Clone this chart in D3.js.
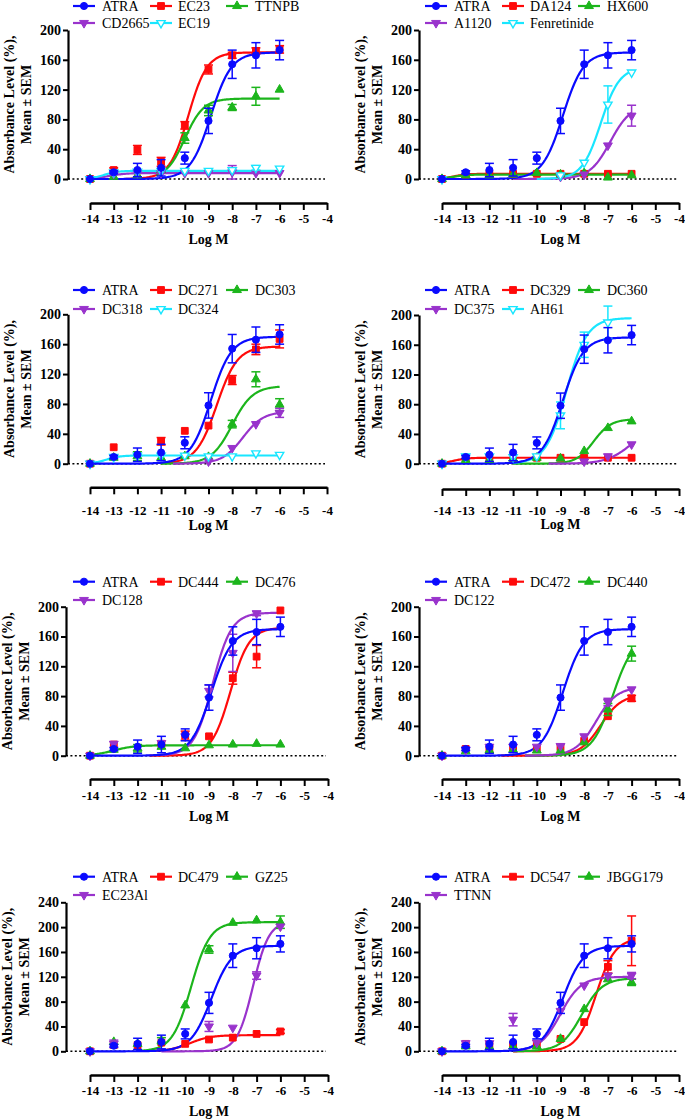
<!DOCTYPE html>
<html><head><meta charset="utf-8">
<script src="https://cdn.jsdelivr.net/npm/d3@7"></script>
<style>
body{margin:0;background:#fff;}
svg{display:block;}
svg text{font-family:'Liberation Serif','DejaVu Serif',serif !important;fill:#000;}
</style></head><body>
<svg id="c" width="685" height="1120"></svg>
<script>
// ---------- DATA ----------
const X_LOG = [-14, -13, -12, -11, -10, -9, -8, -7, -6];
const X_TICKS = [-14, -13, -12, -11, -10, -9, -8, -7, -6, -5, -4];
const Y_TICKS_200 = [0, 40, 80, 120, 160, 200];
const Y_TICKS_240 = [0, 40, 80, 120, 160, 200, 240];

// fit arrays: [bottom, top, logEC50, hill, curve start logM]
const atraVals = [0, 9, 12, 15, 28, 78, 154, 166, 173];
const atraErr  = [0, 2, 9, 11, 8, 17, 19, 17, 13];
const atraFit  = [0, 170, -8.9, 1.0, -14];

// Panel 1
const p1Names = ["ATRA", "EC23", "TTNPB", "CD2665", "EC19"];
const ec23Vals = [0, 12, 39, 23, 72, 147, 166, 172, 174];
const ec23Err  = [0, 3, 6, 6, 5, 6, 4, 4, 5];
const ec23Fit  = [0, 170, -9.85, 1.1, -12.5];
const ttnpbVals = [0, 3, 5, 12, 55, 92, 96, 111, 120];
const ttnpbErr  = [0, 0, 0, 0, 7, 7, 4, 12, 0];
const ttnpbFit  = [0, 108, -10.0, 1.1, -11.2];
const cd2665Vals = [0, 7, 8, 8, 8, 8, 9, 8, 8];
const cd2665Err  = [0, 0, 0, 0, 0, 0, 9, 0, 0];
const cd2665Fit  = [0, 8, -13.2, 1.2, -14];
const ec19Vals = [0, 9, 10, 11, 11, 11, 12, 15, 14];
const ec19Err  = [0, 0, 0, 0, 0, 0, 0, 3, 0];
const ec19Fit  = [0, 11, -13.4, 1.5, -14];

// Panel 2
const p2Names = ["ATRA", "DA124", "HX600", "A1120", "Fenretinide"];
const da124Vals = [0, 6, 7, 7, 7, 7, 7, 7, 7];
const da124Err  = [0, 0, 0, 0, 0, 0, 0, 0, 0];
const da124Fit  = [0, 7, -13.5, 1.5, -14];
const hx600Vals = [0, 5, 5, 6, 8, 6, 8, 2, 5];
const hx600Err  = [0, 0, 0, 0, 0, 0, 0, 0, 0];
const hx600Fit  = [0, 6, -13.5, 1.5, -14];
const a1120Vals = [0, null, null, null, null, 3, 6, 45, 85];
const a1120Err  = [0, 0, 0, 0, 0, 0, 0, 0, 14];
const a1120Fit  = [0, 100, -6.9, 1.0, -11];
const fenVals = [0, null, null, null, null, 5, 22, 100, 143];
const fenErr  = [0, 0, 0, 0, 0, 0, 0, 25, 0];
const fenFit  = [0, 150, -7.3, 1.1, -10];

// Panel 3
const p3Names = ["ATRA", "DC271", "DC303", "DC318", "DC324"];
const dc271Vals = [0, 22, null, 30, 44, 51, 112, 153, 167];
const dc271Err  = [0, 0, 0, 5, 0, 0, 6, 7, 12];
const dc271Fit  = [0, 157, -8.65, 1.0, -11];
const dc303Vals = [0, 8, 10, 8, 10, 9, 53, 113, 79];
const dc303Err  = [0, 0, 6, 0, 0, 0, 5, 10, 8];
const dc303Fit  = [0, 104, -8.0, 1.0, -11];
const dc318Vals = [0, null, null, null, null, 3, 21, 53, 68];
const dc318Err  = [0, 0, 0, 0, 0, 0, 0, 0, 6];
const dc318Fit  = [0, 70, -7.55, 1.0, -10.5];
const dc324Vals = [0, 9, 11, 11, 11, 10, 10, 14, 12];
const dc324Err  = [0, 0, 0, 0, 0, 0, 0, 0, 0];
const dc324Fit  = [0, 11, -13.3, 1.5, -14];

// Panel 4
const p4Names = ["ATRA", "DC329", "DC360", "DC375", "AH61"];
const dc329Vals = [0, 8, 8, 8, 8, 8, 8, 8, 8];
const dc329Err  = [0, 0, 0, 0, 0, 0, 0, 0, 0];
const dc329Fit  = [0, 8, -13.5, 1.5, -14];
const dc360Vals = [0, 5, 5, 7, 8, 7, 17, 48, 57];
const dc360Err  = [0, 0, 0, 0, 0, 0, 0, 0, 0];
const dc360Fit  = [0, 60, -7.6, 1.2, -11];
const dc375Vals = [0, null, null, null, null, null, 3, 10, 26];
const dc375Err  = [0, 0, 0, 0, 0, 0, 0, 0, 0];
const dc375Fit  = [0, 50, -6.05, 0.85, -9.5];
const ah61Vals = [0, 10, 10, 9, 10, 65, 160, 190, null];
const ah61Err  = [0, 0, 0, 0, 0, 18, 17, 22, 0];
const ah61Fit  = [0, 196, -8.75, 1.0, -11];

// Panel 5
const p5Names = ["ATRA", "DC444", "DC476", "DC128"];
const dc444Vals = [0, 15, null, 16, 27, 26, 104, 133, 195];
const dc444Err  = [0, 0, 0, 0, 6, 0, 8, 15, 0];
const dc444Fit  = [0, 172, -8.1, 1.1, -11.5];
const dc476Vals = [0, 8, 10, 12, 10, 14, 15, 16, 15];
const dc476Err  = [0, 0, 5, 0, 0, 0, 0, 0, 0];
const dc476Fit  = [0, 14, -13.0, 1.0, -14];
const dc128Vals = [0, 16, null, 17, 26, 87, 138, 191, null];
const dc128Err  = [0, 0, 0, 0, 0, 8, 25, 3, 0];
const dc128Fit  = [0, 192, -8.85, 1.1, -11];

// Panel 6
const p6Names = ["ATRA", "DC472", "DC440", "DC122"];
const dc472Vals = [0, 9, 9, 10, 9, 11, 20, 53, 77];
const dc472Err  = [0, 0, 0, 0, 0, 0, 0, 0, 4];
const dc472Fit  = [0, 82, -7.3, 1.0, -11.5];
const dc440Vals = [0, 6, 7, 8, 7, 7, 18, 62, 137];
const dc440Err  = [0, 0, 0, 0, 0, 0, 0, 8, 10];
const dc440Fit  = [0, 160, -6.8, 1.0, -10.5];
const dc122Vals = [0, 8, 12, 12, 12, 13, 26, 72, 89];
const dc122Err  = [0, 0, 0, 0, 0, 0, 0, 5, 0];
const dc122Fit  = [0, 92, -7.5, 1.0, -10.5];

// Panel 7
const p7Names = ["ATRA", "DC479", "GZ25", "EC23Al"];
const dc479Vals = [0, 10, 10, 14, 12, 19, 22, 28, 32];
const dc479Err  = [0, 0, 0, 0, 0, 0, 0, 0, 3];
const dc479Fit  = [0, 26, -9.8, 1.0, -11.5];
const gz25Vals = [0, 15, 12, 17, 74, 164, 207, 211, 208];
const gz25Err  = [0, 0, 0, 5, 0, 6, 0, 0, 10];
const gz25Fit  = [0, 208, -9.75, 1.1, -12];
const ec23alVals = [0, 12, null, null, null, 40, 38, 122, 201];
const ec23alErr  = [0, 6, 0, 0, 0, 8, 0, 6, 0];
const ec23alFit  = [0, 210, -7.15, 1.3, -11];

// Panel 8
const p8Names = ["ATRA", "DC547", "JBGG179", "TTNN"];
const dc547Vals = [0, 12, 10, 10, 10, 20, 47, 136, 178];
const dc547Err  = [0, 0, 0, 0, 0, 0, 0, 10, 40];
const dc547Fit  = [0, 182, -7.5, 1.1, -11];
const jbggVals = [0, 8, 7, 8, 8, 20, 68, 116, 111];
const jbggErr  = [0, 0, 0, 0, 0, 0, 0, 0, 5];
const jbggFit  = [0, 118, -8.1, 1.0, -11];
const ttnnVals = [0, 13, 13, 51, 14, 65, 106, 122, 122];
const ttnnErr  = [0, 0, 0, 10, 0, 0, 0, 0, 5];
const ttnnFit  = [0, 120, -9.0, 1.0, -11];

// ---------- STYLE / LAYOUT ----------
const COLORS = ["#0a0aff", "#ff0a0a", "#1cb51c", "#9933cc", "#19e6ff"];
const SYMBOLS = ["circle", "square", "tri", "triDown", "triOpen"];

const panelData = [
  {names: p1Names, yTicks: Y_TICKS_200, vals: [atraVals, ec23Vals, ttnpbVals, cd2665Vals, ec19Vals], errs: [atraErr, ec23Err, ttnpbErr, cd2665Err, ec19Err], fits: [atraFit, ec23Fit, ttnpbFit, cd2665Fit, ec19Fit]},
  {names: p2Names, yTicks: Y_TICKS_200, vals: [atraVals, da124Vals, hx600Vals, a1120Vals, fenVals], errs: [atraErr, da124Err, hx600Err, a1120Err, fenErr], fits: [atraFit, da124Fit, hx600Fit, a1120Fit, fenFit]},
  {names: p3Names, yTicks: Y_TICKS_200, vals: [atraVals, dc271Vals, dc303Vals, dc318Vals, dc324Vals], errs: [atraErr, dc271Err, dc303Err, dc318Err, dc324Err], fits: [atraFit, dc271Fit, dc303Fit, dc318Fit, dc324Fit]},
  {names: p4Names, yTicks: Y_TICKS_200, vals: [atraVals, dc329Vals, dc360Vals, dc375Vals, ah61Vals], errs: [atraErr, dc329Err, dc360Err, dc375Err, ah61Err], fits: [atraFit, dc329Fit, dc360Fit, dc375Fit, ah61Fit]},
  {names: p5Names, yTicks: Y_TICKS_200, vals: [atraVals, dc444Vals, dc476Vals, dc128Vals], errs: [atraErr, dc444Err, dc476Err, dc128Err], fits: [atraFit, dc444Fit, dc476Fit, dc128Fit]},
  {names: p6Names, yTicks: Y_TICKS_200, vals: [atraVals, dc472Vals, dc440Vals, dc122Vals], errs: [atraErr, dc472Err, dc440Err, dc122Err], fits: [atraFit, dc472Fit, dc440Fit, dc122Fit]},
  {names: p7Names, yTicks: Y_TICKS_240, vals: [atraVals, dc479Vals, gz25Vals, ec23alVals], errs: [atraErr, dc479Err, gz25Err, ec23alErr], fits: [atraFit, dc479Fit, gz25Fit, ec23alFit]},
  {names: p8Names, yTicks: Y_TICKS_240, vals: [atraVals, dc547Vals, jbggVals, ttnnVals], errs: [atraErr, dc547Err, jbggErr, ttnnErr], fits: [atraFit, dc547Fit, jbggFit, ttnnFit]}
];

const layouts = [
  {x0:90,  x1:327, ax:68,  yTop:30,    yZero:179,    xAxisY:203,   tickLab:218,   title:239,   leg:[6,23]},
  {x0:442, x1:679, ax:419, yTop:30,    yZero:179,    xAxisY:203,   tickLab:218,   title:239,   leg:[6,23]},
  {x0:90,  x1:327, ax:68,  yTop:314.3, yZero:463.7,  xAxisY:487.3, tickLab:510.5, title:525,   leg:[290,309]},
  {x0:442, x1:679, ax:419, yTop:315,   yZero:463.7,  xAxisY:489,   tickLab:510.5, title:524.5, leg:[290,309]},
  {x0:90,  x1:328, ax:66,  yTop:606.7, yZero:755.7,  xAxisY:779,   tickLab:795,   title:816.5, leg:[581.7,600]},
  {x0:442, x1:679, ax:419, yTop:606.7, yZero:755.7,  xAxisY:779,   tickLab:795,   title:816.5, leg:[581.7,600]},
  {x0:90,  x1:328, ax:66,  yTop:902.3, yZero:1051.3, xAxisY:1075,  tickLab:1090,  title:1111.5,leg:[876.7,895]},
  {x0:442, x1:679, ax:419, yTop:902.3, yZero:1051.3, xAxisY:1075,  tickLab:1090,  title:1111.5,leg:[876.7,895]}
];

const FONT = "'Liberation Serif','DejaVu Serif',serif";
const svg = d3.select("#c");

function drawSymbol(g, kind, cx, cy, color) {
  let gen, rot = 0, fill = color, stroke = color, sw = 1;
  if (kind === "circle") gen = d3.symbol().type(d3.symbolCircle).size(40);
  else if (kind === "square") gen = d3.symbol().type(d3.symbolSquare).size(46);
  else if (kind === "tri") gen = d3.symbol().type(d3.symbolTriangle).size(34);
  else if (kind === "triDown") { gen = d3.symbol().type(d3.symbolTriangle).size(34); rot = 180; }
  else { gen = d3.symbol().type(d3.symbolTriangle).size(30); rot = 180; fill = "#fff"; sw = 1.4; }
  g.append("path").attr("d", gen())
    .attr("transform", `translate(${cx},${cy}) rotate(${rot})`)
    .attr("fill", fill).attr("stroke", stroke).attr("stroke-width", sw);
}

function fitCurve(f) {
  const [bot, top, ec50, hill, start] = f;
  return d3.range(start, -6 + 1e-9, 0.04).concat([-6]).map(lx => [lx, bot + (top - bot) / (1 + Math.pow(10, (ec50 - lx) * hill))]);
}

panelData.forEach((p, i) => {
  const L = layouts[i];
  const g = svg.append("g").style("font-family", FONT);
  const x = d3.scaleLinear().domain([-14, -4]).range([L.x0, L.x1]);
  const y = d3.scaleLinear().domain([0, d3.max(p.yTicks)]).range([L.yZero, L.yTop]);

  // Y axis
  const ya = g.append("g").attr("transform", `translate(${L.ax},0)`)
    .call(d3.axisLeft(y).tickValues(p.yTicks).tickSize(5).tickSizeOuter(0).tickPadding(2).tickFormat(d3.format("d")));
  ya.attr("font-family", null);
  ya.select(".domain").attr("stroke", "#000").attr("stroke-width", 2.2);
  ya.selectAll(".tick line").attr("stroke", "#000").attr("stroke-width", 2);
  ya.selectAll(".tick text").style("font-family", FONT).attr("font-size", 14).attr("font-weight", "bold");

  // zero dotted line
  g.append("line").attr("x1", L.ax).attr("x2", L.x1 - 2).attr("y1", y(0)).attr("y2", y(0))
    .attr("stroke", "#000").attr("stroke-width", 1.6).attr("stroke-dasharray", "2,2.4");

  // X axis
  const xa = g.append("g").attr("transform", `translate(0,${L.xAxisY})`)
    .call(d3.axisBottom(x).tickValues(X_TICKS).tickSize(7).tickSizeOuter(0).tickFormat(d => String(d)));
  xa.attr("font-family", null);
  xa.select(".domain").attr("stroke", "#000").attr("stroke-width", 2.4);
  xa.selectAll(".tick line").attr("stroke", "#000").attr("stroke-width", 2);
  xa.selectAll(".tick text").style("font-family", FONT).attr("font-size", 13).attr("font-weight", "bold")
    .attr("y", L.tickLab - L.xAxisY).attr("dy", "0.35em");

  // axis titles
  g.append("text").attr("x", (L.x0 + L.x1) / 2).attr("y", L.title).attr("dy", "0.35em")
    .style("font-family", FONT).attr("text-anchor", "middle").attr("font-size", 14).attr("font-weight", "bold").text("Log M");
  const cy = (L.yTop + L.yZero) / 2;
  g.append("text").attr("transform", `translate(${L.ax - 59},${cy}) rotate(-90)`).attr("dy", "0.35em")
    .style("font-family", FONT).attr("text-anchor", "middle").attr("font-size", 14).attr("font-weight", "bold").text("Absorbance Level (%),");
  g.append("text").attr("transform", `translate(${L.ax - 42},${cy}) rotate(-90)`).attr("dy", "0.35em")
    .style("font-family", FONT).attr("text-anchor", "middle").attr("font-size", 14).attr("font-weight", "bold").text("Mean \u00b1 SEM");

  // series order: others first, ATRA last (on top)
  const order = d3.range(1, p.names.length).concat([0]);
  const line = d3.line().x(d => x(d[0])).y(d => y(d[1]));

  order.forEach(s => {
    g.append("path").datum(fitCurve(p.fits[s])).attr("d", line)
      .attr("fill", "none").attr("stroke", COLORS[s]).attr("stroke-width", 2.2);
  });
  order.forEach(s => {
    const vals = p.vals[s], errs = p.errs[s];
    X_LOG.forEach((lx, k) => {
      if (vals[k] == null) return;
      const e = errs[k];
      if (e > 0) {
        const xx = x(lx), yHi = y(vals[k] + e), yLo = y(vals[k] - e);
        g.append("line").attr("x1", xx).attr("x2", xx).attr("y1", yHi).attr("y2", yLo).attr("stroke", COLORS[s]).attr("stroke-width", 1.5);
        [yHi, yLo].forEach(yy => g.append("line").attr("x1", xx - 4.5).attr("x2", xx + 4.5).attr("y1", yy).attr("y2", yy).attr("stroke", COLORS[s]).attr("stroke-width", 1.5));
      }
    });
    X_LOG.forEach((lx, k) => {
      if (vals[k] == null) return;
      drawSymbol(g, SYMBOLS[s], x(lx), y(vals[k]), COLORS[s]);
    });
  });

  // legend
  const lineStart = [-17, 60, 136], textStart = [12, 88, 165];
  p.names.forEach((name, s) => {
    const row = s < 3 ? 0 : 1, col = s < 3 ? s : s - 3;
    const ly = L.leg[row];
    const lx1 = L.x0 + lineStart[col], lx2 = lx1 + 22;
    g.append("line").attr("x1", lx1).attr("x2", lx2).attr("y1", ly).attr("y2", ly).attr("stroke", COLORS[s]).attr("stroke-width", 2.2);
    drawSymbol(g, SYMBOLS[s], (lx1 + lx2) / 2, ly, COLORS[s]);
    g.append("text").attr("x", L.x0 + textStart[col]).attr("y", ly).attr("dy", "0.35em")
      .style("font-family", FONT).attr("font-size", 14).text(name);
  });
});
</script></body></html>
